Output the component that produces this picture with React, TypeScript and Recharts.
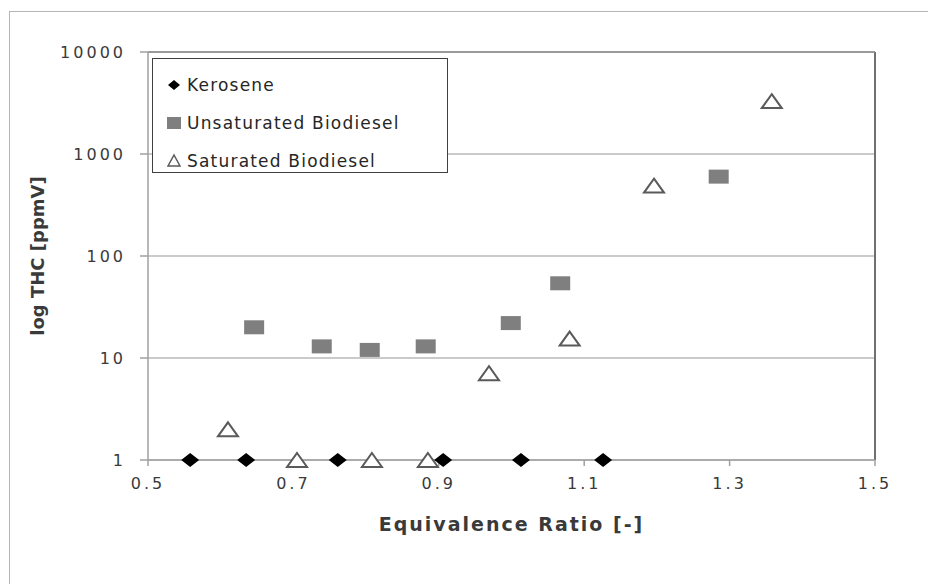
import React from "react";
import {
  ScatterChart,
  Scatter,
  XAxis,
  YAxis,
  CartesianGrid,
  ReferenceLine,
  Legend,
  Label,
} from "recharts";

// Equivalence ratio (x) and THC in ppmV (y)
const seriesNames = ["Kerosene", "Unsaturated Biodiesel", "Saturated Biodiesel"];

const keroseneX = [0.558, 0.635, 0.761, 0.906, 1.013, 1.126];
const keroseneY = [1, 1, 1, 1, 1, 1];

const unsaturatedX = [0.646, 0.739, 0.805, 0.882, 0.999, 1.067, 1.285];
const unsaturatedY = [20, 13, 12, 13, 22, 54, 600];

const saturatedX = [0.61, 0.705, 0.808, 0.885, 0.969, 1.08, 1.196, 1.358];
const saturatedY = [2, 1, 1, 1, 7.1, 15.5, 490, 3300];

const xTicks = [0.5, 0.7, 0.9, 1.1, 1.3, 1.5];
const yTicks = [1, 10, 100, 1000, 10000];

const toPoints = (xs: number[], ys: number[]) => xs.map((x, i) => ({ x, y: ys[i] }));

const kerosene = toPoints(keroseneX, keroseneY);
const unsaturated = toPoints(unsaturatedX, unsaturatedY);
const saturated = toPoints(saturatedX, saturatedY);

const FONT = "'DejaVu Sans', sans-serif";
const TEXT = "#3a3a3a";

const Diamond = ({ cx, cy }: any) => (
  <polygon
    points={`${cx - 9},${cy} ${cx},${cy - 7} ${cx + 9},${cy} ${cx},${cy + 7}`}
    fill="#000"
  />
);

const Square = ({ cx, cy }: any) => (
  <rect x={cx - 10} y={cy - 7} width={20} height={14} fill="#7f7f7f" />
);

const Triangle = ({ cx, cy }: any) => (
  <polygon
    points={`${cx},${cy - 7} ${cx + 10},${cy + 7} ${cx - 10},${cy + 7}`}
    fill="#fff"
    stroke="#5a5a5a"
    strokeWidth={2}
  />
);

const legendMarker = (name: string) => {
  if (name === "Kerosene")
    return <polygon points="1,8 7,3 13,8 7,13" fill="#000" />;
  if (name === "Unsaturated Biodiesel")
    return <rect x={0} y={2} width={14} height={12} fill="#7f7f7f" />;
  return (
    <polygon points="7,2 13,13 1,13" fill="#fff" stroke="#5a5a5a" strokeWidth={1.5} />
  );
};

const LegendBox = ({ payload }: any) => {
  const items = [...(payload || [])].sort(
    (a: any, b: any) => seriesNames.indexOf(a.value) - seriesNames.indexOf(b.value)
  );
  return (
    <div
      style={{
        border: "1.5px solid #404040",
        background: "#fff",
        width: 296,
        height: 115,
        boxSizing: "border-box",
        paddingTop: 7,
        fontFamily: FONT,
        fontSize: 17,
        letterSpacing: 1.2,
        color: "#262626",
      }}
    >
      {items.map((entry: any) => (
        <div
          key={entry.value}
          style={{ display: "flex", alignItems: "center", height: 38, paddingLeft: 14 }}
        >
          <svg width={16} height={16} style={{ marginRight: 4 }}>
            {legendMarker(entry.value)}
          </svg>
          <span>{entry.value}</span>
        </div>
      ))}
    </div>
  );
};

const YTitle = ({ viewBox }: any) => {
  const x = 37;
  const y = viewBox.y + viewBox.height / 2;
  return (
    <text
      x={x}
      y={y}
      transform={`rotate(-90, ${x}, ${y})`}
      textAnchor="middle"
      dominantBaseline="central"
      fontFamily={FONT}
      fontSize={18}
      fontWeight="bold"
      fill={TEXT}
    >
      log THC [ppmV]
    </text>
  );
};

const XTitle = ({ viewBox }: any) => (
  <text
    x={viewBox.x + viewBox.width / 2}
    y={524}
    textAnchor="middle"
    dominantBaseline="central"
    fontFamily={FONT}
    fontSize={19}
    fontWeight="bold"
    letterSpacing={2}
    fill={TEXT}
  >
    Equivalence Ratio [-]
  </text>
);

export default function App() {
  const tickStyle = { fontFamily: FONT, fontSize: 16, fill: TEXT, letterSpacing: 3 };
  return (
    <div
      style={{
        position: "fixed",
        left: 0,
        top: 0,
        width: 928,
        height: 584,
        background: "#fff",
        overflow: "hidden",
      }}
    >
      <div
        style={{
          position: "absolute",
          left: 9,
          top: 11,
          width: 940,
          height: 600,
          borderTop: "1.5px solid #b5b5b5",
          borderLeft: "1.5px solid #b5b5b5",
        }}
      />
      <div style={{ position: "absolute", left: 0, top: 0 }}>
        <ScatterChart
          width={928}
          height={584}
          margin={{ top: 52, right: 53, left: 88, bottom: 94 }}
        >
          <CartesianGrid vertical={false} stroke="#b8b8b8" strokeWidth={1.5} />
          <XAxis
            type="number"
            dataKey="x"
            domain={[0.5, 1.5]}
            ticks={xTicks}
            tickFormatter={(v: number) => v.toFixed(1)}
            height={30}
            tickSize={6}
            tickMargin={12}
            stroke="#a0a0a0"
            strokeWidth={1.5}
            tick={tickStyle}
          >
            <Label content={<XTitle />} />
          </XAxis>
          <YAxis
            type="number"
            dataKey="y"
            scale="log"
            domain={[1, 10000]}
            ticks={yTicks}
            width={60}
            tickSize={8}
            tickMargin={14}
            stroke="#a0a0a0"
            strokeWidth={1.5}
            tick={tickStyle}
          >
            <Label content={<YTitle />} />
          </YAxis>
          <ReferenceLine x={1.5} stroke="#707070" strokeWidth={2} />
          <ReferenceLine y={10000} stroke="#8a8a8a" strokeWidth={1.5} />
          <Legend
            layout="vertical"
            align="center"
            verticalAlign="middle"
            wrapperStyle={{ left: 152, top: 58, width: 296, height: 115 }}
            content={<LegendBox />}
          />
          <Scatter
            name="Kerosene"
            data={kerosene}
            shape={<Diamond />}
            isAnimationActive={false}
          />
          <Scatter
            name="Unsaturated Biodiesel"
            data={unsaturated}
            shape={<Square />}
            isAnimationActive={false}
          />
          <Scatter
            name="Saturated Biodiesel"
            data={saturated}
            shape={<Triangle />}
            isAnimationActive={false}
          />
        </ScatterChart>
      </div>
    </div>
  );
}
